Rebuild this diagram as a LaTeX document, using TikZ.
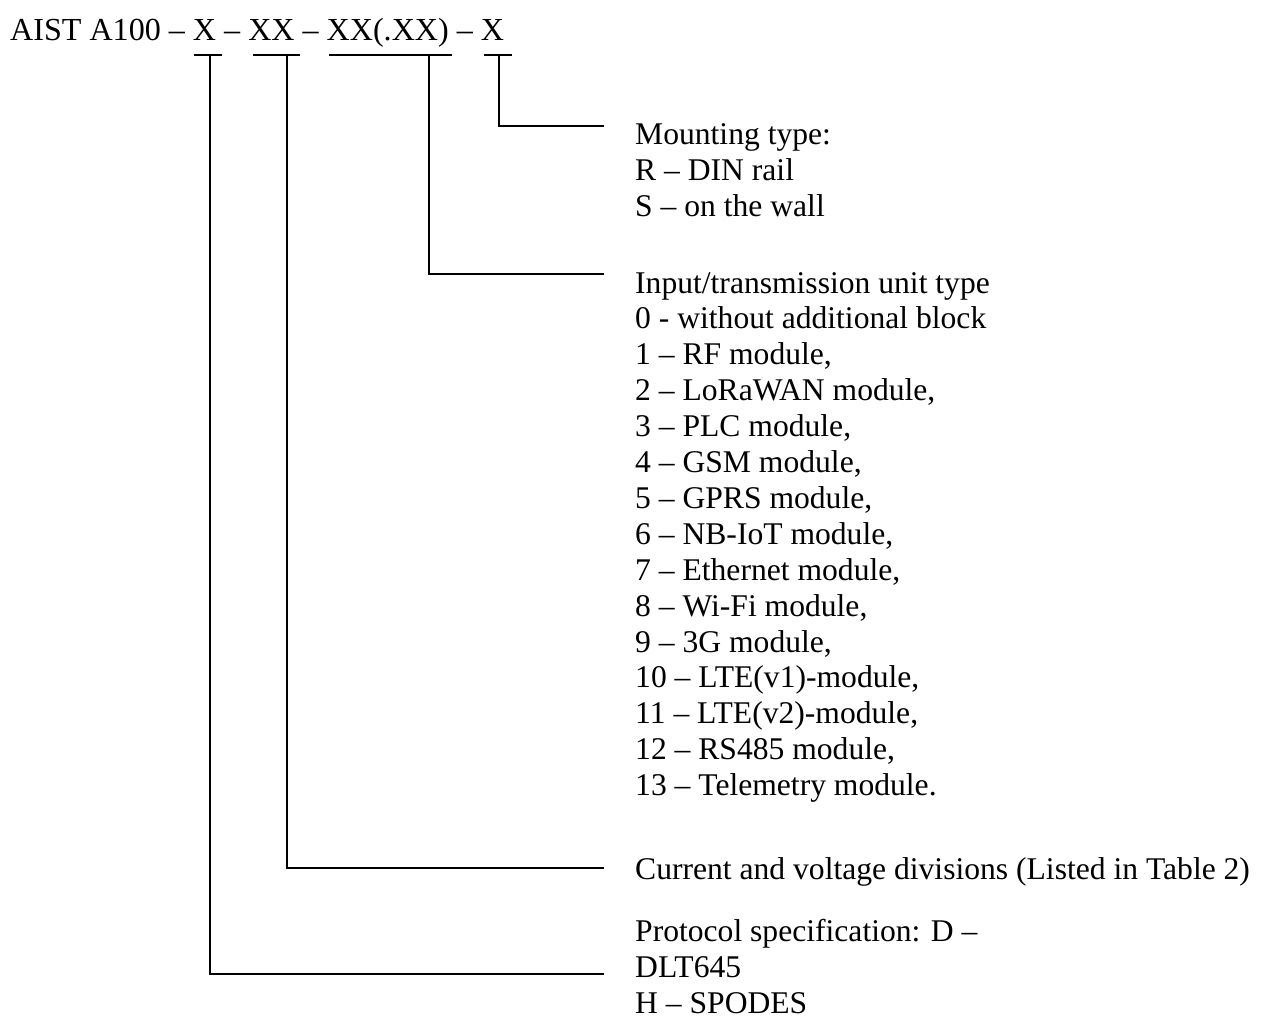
\documentclass[tikz,border=0pt]{standalone}
\usepackage{fontspec}
\setmainfont{Liberation Serif}
\begin{document}
\begin{tikzpicture}[x=1pt,y=-1pt,
  lbl/.style={anchor=base west, inner sep=0pt, font=\fontsize{31.6}{36}\selectfont},
  conn/.style={line width=2pt}]
\useasboundingbox (0,0) rectangle (1262,1030);
\fill[white] (0,0) rectangle (1262,1030);
% title
\node[lbl, font=\fontsize{32.1}{36}\selectfont] (title) at (10,41) {AIST A100 – X – XX – XX(.XX) – X};
% bars under the code positions
\coordinate (b1l) at (194,55); \coordinate (b1r) at (222,55); \coordinate (b1) at (210,55);
\coordinate (b2l) at (253,55); \coordinate (b2r) at (300,55); \coordinate (b2) at (287,55);
\coordinate (b3l) at (329,55); \coordinate (b3r) at (452,55); \coordinate (b3) at (429,55);
\coordinate (b4l) at (484,55); \coordinate (b4r) at (512,55); \coordinate (b4) at (499,55);
\coordinate (e1) at (604,974);
\coordinate (e2) at (604,868);
\coordinate (e3) at (604,274);
\coordinate (e4) at (604,126);
\draw[conn] (b1l) -- (b1r);
\draw[conn] (b2l) -- (b2r);
\draw[conn] (b3l) -- (b3r);
\draw[conn] (b4l) -- (b4r);
\draw[conn] (b1) |- (e1);
\draw[conn] (b2) |- (e2);
\draw[conn] (b3) |- (e3);
\draw[conn] (b4) |- (e4);
% mounting
\node[lbl] (m1) at (635,145) {Mounting type:};
\node[lbl] (m2) at (635,181) {R – DIN rail};
\node[lbl] (m3) at (635,217) {S – on the wall};
% input unit
\node[lbl] (i0) at (635,293.0) {Input/transmission unit type};
\node[lbl] (i1) at (635,328.9) {0 - without additional block};
\node[lbl] (i2) at (635,364.8) {1 – RF module,};
\node[lbl] (i3) at (635,400.7) {2 – LoRaWAN module,};
\node[lbl] (i4) at (635,436.6) {3 – PLC module,};
\node[lbl] (i5) at (635,472.5) {4 – GSM module,};
\node[lbl] (i6) at (635,508.4) {5 – GPRS module,};
\node[lbl] (i7) at (635,544.3) {6 – NB-IoT module,};
\node[lbl] (i8) at (635,580.2) {7 – Ethernet module,};
\node[lbl] (i9) at (635,616.1) {8 – Wi-Fi module,};
\node[lbl] (i10) at (635,652.0) {9 – 3G module,};
\node[lbl] (i11) at (635,687.9) {10 – LTE(v1)-module,};
\node[lbl] (i12) at (635,723.8) {11 – LTE(v2)-module,};
\node[lbl] (i13) at (635,759.7) {12 – RS485 module,};
\node[lbl] (i14) at (635,795.6) {13 – Telemetry module.};
% current
\node[lbl] (c1) at (635,879) {Current and voltage divisions (Listed in Table 2)};
% protocol
\node[lbl] (p1) at (635,941) {Protocol specification: D –};
\node[lbl] (p2) at (635,977) {DLT645};
\node[lbl] (p3) at (635,1013) {H – SPODES};
\end{tikzpicture}
\end{document}
